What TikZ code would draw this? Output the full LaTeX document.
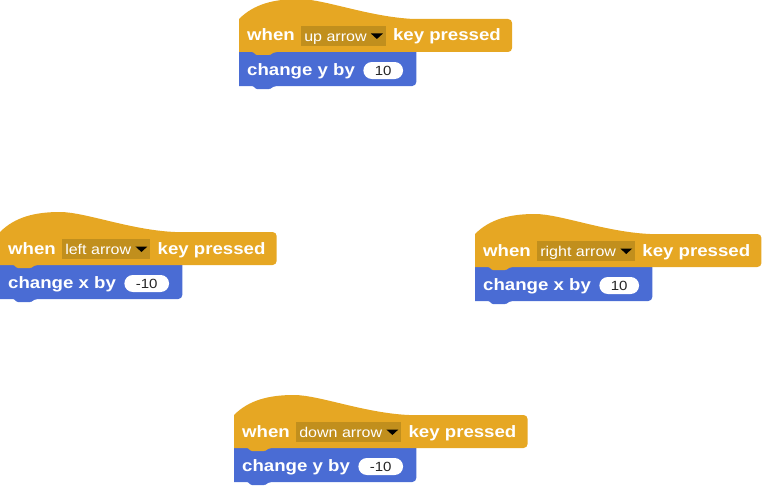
\documentclass[tikz,border=0pt]{standalone}
\usepackage{fontspec}
\usetikzlibrary{positioning,calc,backgrounds}
\newfontfamily\blockfont{Liberation Sans}[FakeStretch=1.13]
\definecolor{eventcol}{HTML}{E6A723}
\definecolor{menucol}{HTML}{C18F1D}
\definecolor{motioncol}{HTML}{4A6CD4}
\tikzset{
  blocktext/.style={inner sep=0pt, text=white, font=\blockfont\bfseries\fontsize{16.5}{18}\selectfont, text height=12.5pt, text depth=2.5pt},
  keymenu/.style={fill=menucol, inner xsep=3pt, inner ysep=0pt, minimum height=20pt, text=white, font=\blockfont\fontsize{14.2}{16}\selectfont, text height=11pt, text depth=0pt, execute at end node={\hspace*{16pt}}},
  numslot/.style={fill=white, rounded corners=8.5pt, inner xsep=11.5pt, inner ysep=0pt, minimum height=17pt, text=black!85, font=\blockfont\fontsize{13.3}{15}\selectfont, text height=10pt, text depth=0pt},
}
\begin{document}
\begin{tikzpicture}[x=1pt, y=-1pt]
    \useasboundingbox (0,0) rectangle (762,487);

    % up arrow script
    \node[blocktext, anchor=base west] (upwhen) at (247,41) {when};
    \node[keymenu, right=6pt of upwhen] (upmenu) {up arrow};
    \node[blocktext, right=7pt of upmenu] (upkey) {key pressed};
    \node[blocktext, anchor=base west] (upchange) at (247,75.5) {change y by};
    \node[numslot, right=8pt of upchange] (upval) {10};
    \fill ($(upmenu.east)+(-15,-2.5)$) -- ++(12,0) -- ++(-6,5.5) -- cycle;

    % left arrow script
    \node[blocktext, anchor=base west] (leftwhen) at (8,254) {when};
    \node[keymenu, right=6pt of leftwhen] (leftmenu) {left arrow};
    \node[blocktext, right=7pt of leftmenu] (leftkey) {key pressed};
    \node[blocktext, anchor=base west] (leftchange) at (8,288.5) {change x by};
    \node[numslot, right=8pt of leftchange] (leftval) {-10};
    \fill ($(leftmenu.east)+(-15,-2.5)$) -- ++(12,0) -- ++(-6,5.5) -- cycle;

    % right arrow script
    \node[blocktext, anchor=base west] (rightwhen) at (483,256) {when};
    \node[keymenu, right=6pt of rightwhen] (rightmenu) {right arrow};
    \node[blocktext, right=7pt of rightmenu] (rightkey) {key pressed};
    \node[blocktext, anchor=base west] (rightchange) at (483,290.5) {change x by};
    \node[numslot, right=8pt of rightchange] (rightval) {10};
    \fill ($(rightmenu.east)+(-15,-2.5)$) -- ++(12,0) -- ++(-6,5.5) -- cycle;

    % down arrow script
    \node[blocktext, anchor=base west] (downwhen) at (242,437) {when};
    \node[keymenu, right=6pt of downwhen] (downmenu) {down arrow};
    \node[blocktext, right=7pt of downmenu] (downkey) {key pressed};
    \node[blocktext, anchor=base west] (downchange) at (242,471.5) {change y by};
    \node[numslot, right=8pt of downchange] (downval) {-10};
    \fill ($(downmenu.east)+(-15,-2.5)$) -- ++(12,0) -- ++(-6,5.5) -- cycle;

    \begin{scope}[on background layer]
    % motion blocks
    \fill[motioncol, rounded corners=4pt] (253,86) [sharp corners] -- (239,86) -- (239,52) -- ($(upval.east)+(13,-18.5)$) [rounded corners=4pt] -- ($(upval.east)+(13,15.5)$) -- (273,86) [rounded corners=1pt] -- (270,89) -- (256,89) -- cycle;
    \fill[motioncol, rounded corners=4pt] (14,299) [sharp corners] -- (0,299) -- (0,265) -- ($(leftval.east)+(13,-18.5)$) [rounded corners=4pt] -- ($(leftval.east)+(13,15.5)$) -- (34,299) [rounded corners=1pt] -- (31,302) -- (17,302) -- cycle;
    \fill[motioncol, rounded corners=4pt] (489,301) [sharp corners] -- (475,301) -- (475,267) -- ($(rightval.east)+(13,-18.5)$) [rounded corners=4pt] -- ($(rightval.east)+(13,15.5)$) -- (509,301) [rounded corners=1pt] -- (506,304) -- (492,304) -- cycle;
    \fill[motioncol, rounded corners=4pt] (248,482) [sharp corners] -- (234,482) -- (234,448) -- ($(downval.east)+(13,-18.5)$) [rounded corners=4pt] -- ($(downval.east)+(13,15.5)$) -- (268,482) [rounded corners=1pt] -- (265,485) -- (251,485) -- cycle;

    % hat blocks
    \fill[eventcol] (253,52) -- (239,52) -- (239,19) .. controls (254,4) and (274,-1) .. (299,-1) .. controls (324,-1) and (369,17) .. (414,19) [rounded corners=4pt] -- ($(upkey.east)+(11,-17)$) -- ($(upkey.east)+(11,16)$) -- (273,52) [rounded corners=1pt] -- (270,55) -- (256,55) -- cycle;
    \fill[eventcol] (14,265) -- (0,265) -- (0,232) .. controls (15,217) and (35,212) .. (60,212) .. controls (85,212) and (130,230) .. (175,232) [rounded corners=4pt] -- ($(leftkey.east)+(11,-17)$) -- ($(leftkey.east)+(11,16)$) -- (34,265) [rounded corners=1pt] -- (31,268) -- (17,268) -- cycle;
    \fill[eventcol] (489,267) -- (475,267) -- (475,234) .. controls (490,219) and (510,214) .. (535,214) .. controls (560,214) and (605,232) .. (650,234) [rounded corners=4pt] -- ($(rightkey.east)+(11,-17)$) -- ($(rightkey.east)+(11,16)$) -- (509,267) [rounded corners=1pt] -- (506,270) -- (492,270) -- cycle;
    \fill[eventcol] (248,448) -- (234,448) -- (234,415) .. controls (249,400) and (269,395) .. (294,395) .. controls (319,395) and (364,413) .. (409,415) [rounded corners=4pt] -- ($(downkey.east)+(11,-17)$) -- ($(downkey.east)+(11,16)$) -- (268,448) [rounded corners=1pt] -- (265,451) -- (251,451) -- cycle;
    \end{scope}
\end{tikzpicture}
\end{document}
